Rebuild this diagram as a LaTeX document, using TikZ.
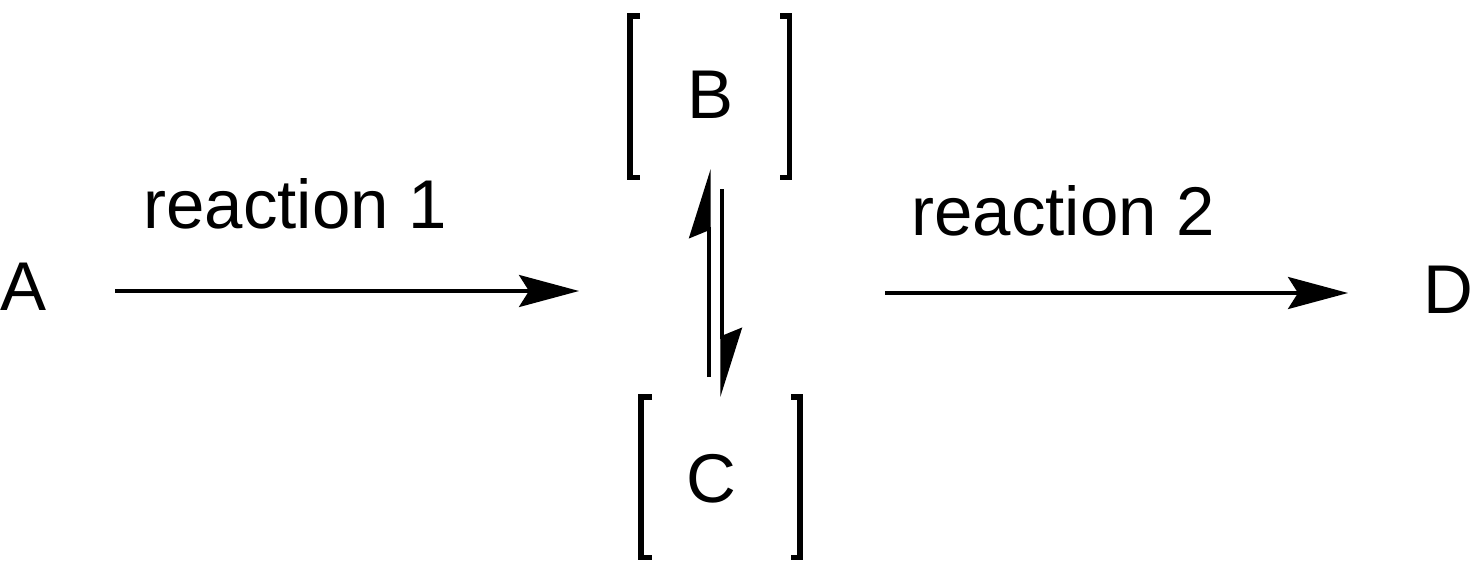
\documentclass[tikz,border=0pt]{standalone}
\usepackage{fontspec}
\setmainfont{Liberation Sans}
\usetikzlibrary{arrows.meta}
\begin{document}
\begin{tikzpicture}[x=0.5pt,y=-0.5pt,
  lbl/.style={inner sep=0pt, anchor=base, font=\fontsize{34.5pt}{40pt}\selectfont},
  rxn/.style={line width=1.75pt, -{Stealth[length=30pt,width=16pt,inset=5pt]}},
  eqarrow/.style={line width=1.65pt, -{Stealth[length=32pt,width=20pt,inset=4pt,harpoon]}},
  brk/.style={line width=2.6pt, line join=miter, line cap=butt}]
\useasboundingbox (0,0) rectangle (1472,583);

% species
\node[lbl, anchor=base west] (A) at (0,310) {A};
\node[lbl] (B) at (711,119) {B};
\node[lbl] (C) at (711.5,502) {C};
\node[lbl, anchor=base west] (D) at (1423,313) {D};

% reaction labels
\node[lbl] (r1) at (295,228) {reaction 1};
\node[lbl] (r2) at (1063,235) {reaction 2};

% arrow end points
\coordinate (a1s) at (115,291);
\coordinate (a1e) at (579,291);
\coordinate (a2s) at (885,293);
\coordinate (a2e) at (1348,293);
\coordinate (ups) at (709,377);
\coordinate (upe) at (709,169);
\coordinate (dns) at (722,189);
\coordinate (dne) at (722,397);

\draw[rxn] (a1s) -- (a1e);
\draw[rxn] (a2s) -- (a2e);
\draw[eqarrow] (ups) -- (upe);
\draw[eqarrow] (dns) -- (dne);

% brackets around B
\draw[brk] (640,16) -- (630,16) -- (630,177.5) -- (640,177.5);
\draw[brk] (780,16) -- (789.5,16) -- (789.5,177.5) -- (780,177.5);
% brackets around C
\draw[brk] (652,397) -- (641,397) -- (641,557.5) -- (652,557.5);
\draw[brk] (791,397) -- (800,397) -- (800,557.5) -- (791,557.5);
\end{tikzpicture}
\end{document}
